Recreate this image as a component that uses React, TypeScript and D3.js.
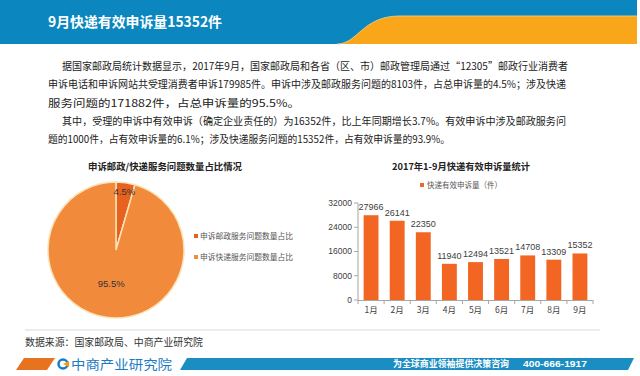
import React from "react";
import * as d3 from "d3";

const headerTitle = "9月快递有效申诉量15352件";
const bodyLines = [
  "据国家邮政局统计数据显示，2017年9月，国家邮政局和各省（区、市）邮政管理局通过“12305”邮政行业消费者",
  "申诉电话和申诉网站共受理消费者申诉179985件。申诉中涉及邮政服务问题的8103件，占总申诉量的4.5%；涉及快递",
  "服务问题的171882件，占总申诉量的95.5%。",
  "其中，受理的申诉中有效申诉（确定企业责任的）为16352件，比上年同期增长3.7%。有效申诉中涉及邮政服务问",
  "题的1000件，占有效申诉量的6.1%；涉及快递服务问题的15352件，占有效申诉量的93.9%。",
];
const bodyIndent = [true, false, false, true, false];
const bodyWidths = [506, 518, 252, 504, 402];

const pieTitle = "申诉邮政/快递服务问题数量占比情况";
const pieLabels = ["申诉邮政服务问题数量占比", "申诉快递服务问题数量占比"];
const pieValues = [4.5, 95.5];

const barTitle = "2017年1-9月快递有效申诉量统计";
const barLegend = "快递有效申诉量（件）";
const months = ["1月", "2月", "3月", "4月", "5月", "6月", "7月", "8月", "9月"];
const complaints = [27966, 26141, 22350, 11940, 12494, 13521, 14708, 13309, 15352];
const yTicks = [0, 8000, 16000, 24000, 32000];

const sourceText = "数据来源：国家邮政局、中商产业研究院";
const footerSlogan = "为全球商业领袖提供决策咨询";
const footerPhone = "400-666-1917";
const logoText = "中商产业研究院";

const FONT = "'Noto Sans CJK SC', 'Noto Sans', sans-serif";
const NUMFONT = "'Liberation Sans', Arial, sans-serif";

export default function App() {
  // pie
  const pcx = 116, pcy = 250, pr = 68;
  const pieGen = d3.pie<number>().sort(null).value((d) => d);
  const arcs = pieGen(pieValues);
  const arcGen = d3.arc<d3.PieArcDatum<number>>().innerRadius(0).outerRadius(pr);
  const smallLabelArc = d3.arc<d3.PieArcDatum<number>>().innerRadius(50).outerRadius(68);
  const bigLabelArc = d3.arc<d3.PieArcDatum<number>>().innerRadius(0).outerRadius(68);
  const pieColors = ["#e8621f", "#f28a3c"];

  // bars
  const x = d3.scaleBand<string>().domain(months).range([358, 593]).paddingInner(0.43).paddingOuter(0.215);
  const y = d3.scaleLinear().domain([0, 32000]).range([300, 203]);
  const band = d3.scaleBand<string>().domain(months).range([358, 593]);

  return (
    <svg width={640} height={376} style={{ position: "absolute", left: 0, top: 0, fontFamily: FONT }}>
      <rect x={0} y={0} width={640} height={376} fill="#ffffff" />
      {/* header */}
      <rect x={0} y={0} width={637} height={44} fill="#0b86be" />
      <path d="M337,44 C358,44 362,16 400,16 L637,16 L637,44 Z" fill="#f9a61a" />
      <path d="M337,44 C358,44 362,16 400,16 L637,16" fill="none" stroke="#e8c878" strokeWidth={1} />
      <text x={48} y={27} fill="#ffffff" fontSize={14} fontWeight="bold" textLength={174} lengthAdjust="spacingAndGlyphs">{headerTitle}</text>

      {/* body text */}
      {bodyLines.map((l, i) => (
        <text key={i} x={bodyIndent[i] ? 62 : 48} y={70 + i * 18.3} fontSize={10.5} fill="#222"
          textLength={bodyWidths[i]} lengthAdjust="spacingAndGlyphs">{l}</text>
      ))}

      {/* pie */}
      <text x={165} y={170} textAnchor="middle" fontSize={9.5} fontWeight="bold" fill="#222" textLength={154} lengthAdjust="spacingAndGlyphs">{pieTitle}</text>
      <g transform={`translate(${pcx},${pcy})`}>
        {arcs.map((a, i) => (
          <path key={i} d={arcGen(a) || ""} fill={pieColors[i]} stroke="#fbe3b8" strokeWidth={1.5} />
        ))}
        {arcs.map((a, i) => {
          const c = i === 0 ? smallLabelArc.centroid(a) : bigLabelArc.centroid(a);
          return (
            <text key={i} x={c[0]} y={c[1]} dy="0.35em" textAnchor="middle" fontSize={9.5} fontFamily={NUMFONT} fill="#333">
              {pieValues[i]}%
            </text>
          );
        })}
      </g>
      {pieLabels.map((l, i) => (
        <g key={i}>
          <rect x={194} y={234 + i * 21} width={4} height={4} fill={pieColors[i]} />
          <text x={200} y={236 + i * 21} dy="0.35em" fontSize={8} fill="#555" textLength={93} lengthAdjust="spacingAndGlyphs">{l}</text>
        </g>
      ))}

      {/* bar chart */}
      <text x={461} y={170} textAnchor="middle" fontSize={9.5} fontWeight="bold" fill="#222" textLength={138} lengthAdjust="spacingAndGlyphs">{barTitle}</text>
      <rect x={420} y={183} width={4} height={4} fill="#f26522" />
      <text x={427} y={185} dy="0.35em" fontSize={8} fill="#555" textLength={75} lengthAdjust="spacingAndGlyphs">{barLegend}</text>
      {complaints.map((v, i) => (
        <g key={i}>
          <rect x={x(months[i])} y={y(v)} width={x.bandwidth()} height={300 - y(v)} fill="#f26522" />
          <text x={(x(months[i]) || 0) + x.bandwidth() / 2} y={y(v) - 5} textAnchor="middle" fontSize={9} fontFamily={NUMFONT} fill="#404040">{v}</text>
          <text x={(band(months[i]) || 0) + band.bandwidth() / 2} y={310} dy="0.35em" textAnchor="middle" fontSize={8.5} fill="#404040">{months[i]}</text>
        </g>
      ))}
      <line x1={358} x2={358} y1={203} y2={300} stroke="#a6a6a6" />
      <line x1={358} x2={593} y1={300.5} y2={300.5} stroke="#a6a6a6" />
      {yTicks.map((t) => (
        <g key={t}>
          <line x1={354} x2={358} y1={y(t)} y2={y(t)} stroke="#a6a6a6" />
          <text x={352} y={y(t)} dy="0.35em" textAnchor="end" fontSize={8.5} fontFamily={NUMFONT} fill="#404040">{t}</text>
        </g>
      ))}
      {months.map((m) => (
        <line key={m} x1={(band(m) || 0) + band.bandwidth()} x2={(band(m) || 0) + band.bandwidth()} y1={300} y2={304} stroke="#a6a6a6" />
      ))}
      <line x1={358} x2={358} y1={300} y2={304} stroke="#a6a6a6" />

      {/* footer */}
      <line x1={25} x2={600} y1={330} y2={330} stroke="#d9d9d9" />
      <text x={25} y={342} dy="0.35em" fontSize={10} fill="#333" textLength={178} lengthAdjust="spacingAndGlyphs">{sourceText}</text>
      <path d="M16,370 L24,358 L55,358 L47,370 Z" fill="#e8731f" />
      <circle cx={63} cy={364} r={4.5} fill="none" stroke="#1b7cc4" strokeWidth={2.5} />
      <path d="M63,364 L69,361 L69,367 Z" fill="#f39c1a" />
      <text x={71} y={364} dy="0.36em" fontSize={13} fill="#1b7cc4" textLength={101} lengthAdjust="spacingAndGlyphs">{logoText}</text>
      <path d="M180,370 L187,358 L634,358 L628,370 Z" fill="#1a8dc2" />
      <text x={393} y={364} dy="0.36em" fontSize={9.5} fontWeight="bold" fill="#ffffff" textLength={116} lengthAdjust="spacingAndGlyphs">{footerSlogan}</text>
      <text x={523} y={364} dy="0.36em" fontSize={9.5} fontWeight="bold" fontFamily={NUMFONT} fill="#ffffff" textLength={64} lengthAdjust="spacingAndGlyphs">{footerPhone}</text>
    </svg>
  );
}
